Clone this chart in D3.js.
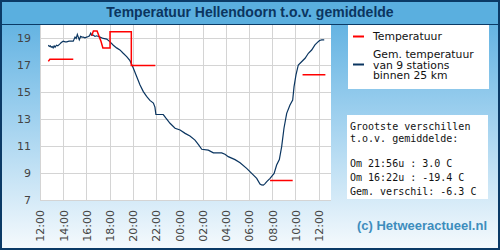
<!DOCTYPE html>
<html>
<head>
<meta charset="utf-8">
<script src="https://cdn.jsdelivr.net/npm/d3@7"></script>
<style>
  body { margin: 0; padding: 0; background: #fff; }
  svg { display: block; }
</style>
</head>
<body>
<svg id="chart"></svg>
<script>
// temperatuur Hellendoorn (rood) - null = geen data
const redTimes = ["12:43","12:51","14:52","15:30","16:27","16:36","16:55","17:15","17:25","18:02","18:02","19:52","19:52","21:56","23:00","07:49","09:46","10:10","10:37","12:35"];
const redValues = [17.3,17.45,17.45,null,19.2,19.55,19.55,18.8,18.3,18.3,19.5,19.5,17.0,17.0,null,8.45,8.45,null,16.3,16.3];

// gemiddelde van 9 stations (donkerblauw)
const blueTimes = ["12:43","12:48","12:53","12:58","13:03","13:08","13:13","13:18","13:25","13:32","13:43","13:50","14:00","14:10","14:18","14:30","14:44","14:52","15:01","15:07","15:13","15:18","15:23","15:30","15:37","15:44","15:52","16:01","16:10","16:16","16:22","16:27","16:35","16:44","16:53","17:02","17:10","17:27","17:45","18:02","18:19","18:36","18:53","19:10","19:28","19:45","20:02","20:20","20:37","20:54","21:11","21:28","21:46","21:54","21:59","22:37","22:50","23:12","23:38","00:04","00:30","00:55","01:21","01:40","01:56","02:30","02:56","03:39","03:56","04:13","04:48","05:14","05:48","06:14","06:40","06:57","07:05","07:14","07:22","07:32","07:49","08:10","08:23","08:37","08:49","09:01","09:15","09:32","09:46","09:53","10:03","10:15","10:32","10:50","11:07","11:24","11:41","11:58","12:05","12:16","12:29"];
const blueValues = [18.5,18.4,18.45,18.35,18.4,18.3,18.45,18.35,18.5,18.45,18.6,18.7,18.8,18.75,18.75,18.8,18.8,18.8,19.1,19.0,19.3,19.1,18.9,19.15,19.1,19.1,19.05,19.1,19.15,19.2,19.4,19.25,19.25,19.15,19.2,19.15,19.1,19.0,18.95,18.75,18.5,18.3,18.15,17.9,17.65,17.35,16.8,16.15,15.55,15.05,14.7,14.4,14.2,13.9,13.35,13.35,13.1,12.7,12.33,12.2,11.95,11.75,11.45,11.1,10.77,10.7,10.5,10.5,10.4,10.22,10.0,9.77,9.35,8.98,8.61,8.19,8.12,8.1,8.2,8.36,8.61,8.98,9.6,10.0,10.96,12.33,13.44,14.06,14.43,15.42,16.29,17.03,17.27,17.53,17.9,18.14,18.52,18.76,18.85,18.9,18.9];

const yTicks = [7, 9, 11, 13, 15, 17, 19];
const xTickLabels = ["12:00","14:00","16:00","18:00","20:00","22:00","00:00","02:00","04:00","06:00","08:00","10:00","12:00"];

const legendItems = ["Temperatuur", "Gem. temperatuur|van 9 stations|binnen 25 km"];
const infoLines = ["Grootste verschillen", "t.o.v. gemiddelde:", "", "Om 21:56u : 3.0 C", "Om 16:22u : -19.4 C", "Gem. verschil: -6.3 C"];

const W = 500, H = 250;
const plot = { left: 40, right: 331, top: 25, bottom: 200 };

// tijden omzetten naar datum, met overgang naar volgende dag
function parseTimes(arr) {
  let day = 1, prev = -1;
  return arr.map(s => {
    const [h, m] = s.split(":").map(Number);
    const mins = h * 60 + m;
    if (mins < prev) day++;
    prev = mins;
    return new Date(2020, 0, day, h, m);
  });
}

const red = parseTimes(redTimes).map((t, i) => ({ t, v: redValues[i] }));
const blue = parseTimes(blueTimes).map((t, i) => ({ t, v: blueValues[i] }));

const svg = d3.select("#chart").attr("width", W).attr("height", H);

const defs = svg.append("defs");
const grad = defs.append("linearGradient").attr("id", "bg").attr("x1", 0).attr("y1", 0).attr("x2", 0).attr("y2", 1);
grad.append("stop").attr("offset", "0%").attr("stop-color", "#55acdf");
grad.append("stop").attr("offset", "45%").attr("stop-color", "#9ccfee");
grad.append("stop").attr("offset", "100%").attr("stop-color", "#f6fafd");

// achtergrond
svg.append("rect").attr("width", W).attr("height", H).attr("fill", "url(#bg)");
svg.append("rect").attr("width", W).attr("height", 24).attr("fill", "#5aafdf");
svg.append("line").attr("x1", 0).attr("x2", W).attr("y1", 24.5).attr("y2", 24.5)
  .attr("stroke", "#0b3a66").attr("stroke-width", 1);
svg.append("rect").attr("x", 1).attr("y", 1).attr("width", W - 2).attr("height", H - 2)
  .attr("fill", "none").attr("stroke", "#0b3a66").attr("stroke-width", 2);

svg.append("text")
  .attr("x", W / 2).attr("y", 17)
  .attr("text-anchor", "middle")
  .style("font-family", "'Liberation Sans', Arial, sans-serif")
  .style("font-weight", "bold").style("font-size", "14px")
  .style("fill", "#0b3560")
  .text("Temperatuur Hellendoorn t.o.v. gemiddelde");

const x = d3.scaleTime()
  .domain([new Date(2020, 0, 1, 12, 0), new Date(2020, 0, 2, 13, 4)])
  .range([plot.left, plot.right]);

const y = d3.scaleLinear()
  .domain([7, 20])
  .range([plot.bottom, plot.top]);

svg.append("rect")
  .attr("x", plot.left).attr("y", plot.top)
  .attr("width", plot.right - plot.left).attr("height", plot.bottom - plot.top)
  .attr("fill", "#fff");

const xTickVals = xTickLabels.map((d, i) => new Date(2020, 0, 1, 12 + i * 2, 0));

// gridlijnen
svg.append("g").selectAll("line")
  .data(yTicks).enter().append("line")
  .attr("x1", plot.left).attr("x2", plot.right)
  .attr("y1", d => Math.round(y(d)) + 0.5).attr("y2", d => Math.round(y(d)) + 0.5)
  .attr("stroke", "#d4d4d4");
svg.append("g").selectAll("line")
  .data(xTickVals).enter().append("line")
  .attr("x1", d => Math.round(x(d)) + 0.5).attr("x2", d => Math.round(x(d)) + 0.5)
  .attr("y1", plot.top).attr("y2", plot.bottom)
  .attr("stroke", "#d4d4d4");

// assen (alleen labels)
const yAxis = svg.append("g")
  .attr("transform", `translate(${plot.left},0)`)
  .call(d3.axisLeft(y).tickValues(yTicks).tickSize(0).tickPadding(9));
yAxis.select(".domain").remove();
yAxis.selectAll("text")
  .style("font-family", "'DejaVu Sans', sans-serif").style("font-size", "11px").style("fill", "#444");

const xAxis = svg.append("g")
  .attr("transform", `translate(0,${plot.bottom})`)
  .call(d3.axisBottom(x).tickValues(xTickVals).tickSize(0).tickFormat((d, i) => xTickLabels[i]));
xAxis.select(".domain").remove();
xAxis.selectAll("text")
  .attr("transform", "rotate(-90)")
  .attr("x", -10).attr("y", 0).attr("dy", "0.35em")
  .attr("text-anchor", "end")
  .style("font-family", "'DejaVu Sans', sans-serif").style("font-size", "11px").style("fill", "#444");

// lijnen
const line = d3.line()
  .defined(d => d.v !== null)
  .x(d => x(d.t)).y(d => y(d.v));

svg.append("path").datum(blue)
  .attr("d", line).attr("fill", "none")
  .attr("stroke", "#0a3560").attr("stroke-width", 1.2);

svg.append("path").datum(red)
  .attr("d", line).attr("fill", "none")
  .attr("stroke", "#ff0000").attr("stroke-width", 1.5);

// legenda
const lg = svg.append("g");
lg.append("rect").attr("x", 348).attr("y", 25).attr("width", 141).attr("height", 64).attr("fill", "#fff");
lg.append("line").attr("x1", 353).attr("x2", 364).attr("y1", 36.5).attr("y2", 36.5)
  .attr("stroke", "#ff0000").attr("stroke-width", 2);
lg.append("line").attr("x1", 353).attr("x2", 364).attr("y1", 64.5).attr("y2", 64.5)
  .attr("stroke", "#0a3560").attr("stroke-width", 2);
const legendY = [[39.5], [58.3, 68.8, 79.3]];
legendItems.forEach((item, i) => {
  item.split("|").forEach((txt, j) => {
    lg.append("text")
      .attr("x", 373).attr("y", legendY[i][j])
      .style("font-family", "'DejaVu Sans', sans-serif").style("font-size", "10.8px").style("fill", "#111")
      .text(txt);
  });
});

// info blok
const ib = svg.append("g");
ib.append("rect").attr("x", 347).attr("y", 115).attr("width", 141).attr("height", 84).attr("fill", "#fff");
const infoY = [130, 142.3, 154, 167.3, 181.3, 194.8];
infoLines.forEach((txt, i) => {
  ib.append("text")
    .attr("x", 350).attr("y", infoY[i])
    .attr("xml:space", "preserve")
    .style("font-family", "'DejaVu Sans Mono', monospace").style("font-size", "10px").style("fill", "#111")
    .style("white-space", "pre")
    .text(txt);
});

svg.append("text")
  .attr("x", 487).attr("y", 230)
  .attr("text-anchor", "end")
  .style("font-family", "'Liberation Sans', Arial, sans-serif")
  .style("font-weight", "bold").style("font-size", "13px")
  .style("fill", "#3d8dbd")
  .text("(c) Hetweeractueel.nl");
</script>
</body>
</html>
